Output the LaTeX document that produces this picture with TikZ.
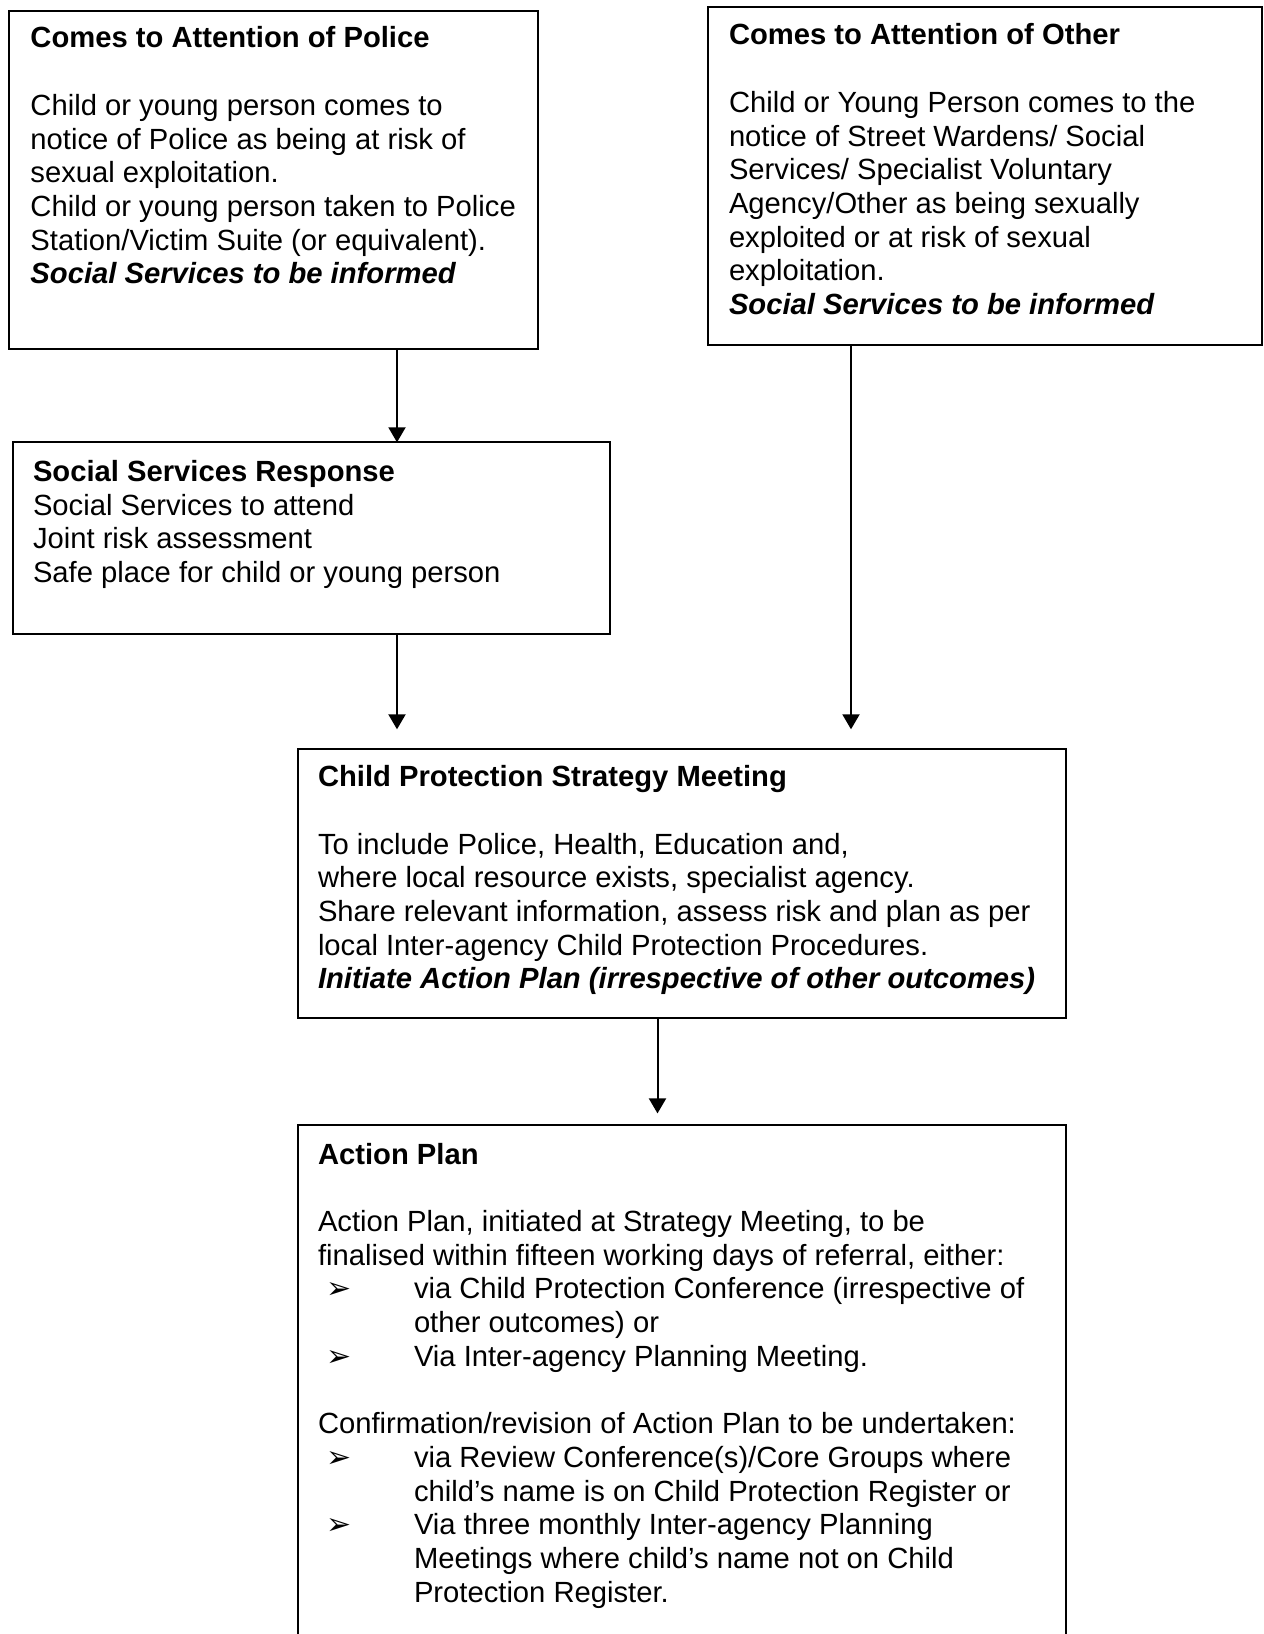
\documentclass[tikz,border=0pt]{standalone}
\usepackage{fontspec}
\setmainfont{Liberation Sans}
\newfontfamily\dejavu{DejaVu Sans}
\usetikzlibrary{arrows.meta}
\newcommand\apbul{\makebox[48pt][l]{\hspace*{4pt}{\dejavu\fontsize{15}{15}\selectfont ➢}}}
\newcommand\apind{\hspace*{48pt}}
\begin{document}
\begin{tikzpicture}[x=0.5pt,y=-0.5pt,
  box/.style={draw,line width=1pt,rectangle,anchor=north west,inner sep=0pt,outer sep=0pt},
  txt/.style={anchor=north west,inner sep=0pt,outer sep=0pt,align=left,font=\fontsize{14.6}{16.85}\selectfont},
  arr/.style={line width=1pt,-{Triangle[length=7.5pt,width=8.5pt]}}]
\useasboundingbox (0,0) rectangle (1264,1634);
% boxes
\node[box,minimum width=264.35pt,minimum height=169.15pt] (b1) at (9,11) {};
\node[box,minimum width=276.7pt,minimum height=168.85pt] (b2) at (708.3,7.3) {};
\node[box,minimum width=298.65pt,minimum height=95.85pt] (b3) at (12.7,442.3) {};
\node[box,minimum width=383.85pt,minimum height=134.5pt] (b4) at (298.3,749.3) {};
\node[box,minimum width=383.85pt,minimum height=267.3pt] (b5) at (298.3,1125.4) {};
% texts
\node[txt] (t1) at (30.5,24.4) {\strut\textbf{Comes to Attention of Police}\\[16.85pt]
Child or young person comes to\\
notice of Police as being at risk of\\
sexual exploitation.\\
Child or young person taken to Police\\
Station/Victim Suite (or equivalent).\\
\textbf{\textit{Social Services to be informed}}};
\node[txt] (t2) at (729,21.4) {\strut\textbf{Comes to Attention of Other}\\[16.85pt]
Child or Young Person comes to the\\
notice of Street Wardens/ Social\\
Services/ Specialist Voluntary\\
Agency/Other as being sexually\\
exploited or at risk of sexual\\
exploitation.\\
\textbf{\textit{Social Services to be informed}}};
\node[txt] (t3) at (33,457.8) {\strut\textbf{Social Services Response}\\
Social Services to attend\\
Joint risk assessment\\
Safe place for child or young person};
\node[txt] (t4) at (318,763.1) {\strut\textbf{Child Protection Strategy Meeting}\\[16.85pt]
To include Police, Health, Education and,\\
where local resource exists, specialist agency.\\
Share relevant information, assess risk and plan as per\\
local Inter-agency Child Protection Procedures.\\
\textbf{\textit{Initiate Action Plan (irrespective of other outcomes)}}};
\node[txt] (t5) at (318,1140.4) {\strut\textbf{Action Plan}\\[16.85pt]
Action Plan, initiated at Strategy Meeting, to be\\
finalised within fifteen working days of referral, either:\\
\apbul via Child Protection Conference (irrespective of\\
\apind other outcomes) or\\
\apbul Via Inter-agency Planning Meeting.\\[16.85pt]
Confirmation/revision of Action Plan to be undertaken:\\
\apbul via Review Conference(s)/Core Groups where\\
\apind child’s name is on Child Protection Register or\\
\apbul Via three monthly Inter-agency Planning\\
\apind Meetings where child’s name not on Child\\
\apind Protection Register.};
% connectors
\coordinate (xa) at (397,0);
\coordinate (xb) at (851,0);
\coordinate (xc) at (657.5,0);
\draw[arr] (b1.south -| xa) -- (b3.north -| xa);
\draw[arr,shorten >=10pt] (b3.south -| xa) -- (b4.north -| xa);
\draw[arr,shorten >=10pt] (b2.south -| xb) -- (b4.north -| xb);
\draw[arr,shorten >=6pt] (b4.south -| xc) -- (b5.north -| xc);
\end{tikzpicture}
\end{document}
